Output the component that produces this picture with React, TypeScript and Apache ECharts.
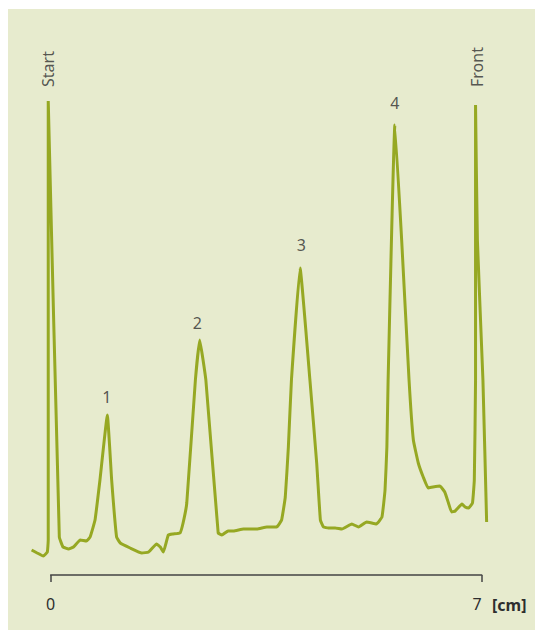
import React, { useEffect, useRef } from "react";
import * as echarts from "echarts";

// Chromatogram trace: migration distance [cm] and detector signal (arbitrary units)
const distanceCm = [
  -0.31, -0.22, -0.12, -0.055, -0.04, -0.04, 0.14, 0.2, 0.29, 0.37, 0.48, 0.58, 0.64,
  0.72, 0.8, 0.92, 0.99, 1.07, 1.13, 1.29, 1.48, 1.59, 1.72, 1.78, 1.83, 1.91, 1.99,
  2.1, 2.15, 2.21, 2.35, 2.42, 2.52, 2.72, 2.78, 2.88, 2.97, 3.13, 3.35, 3.51, 3.67,
  3.75, 3.81, 3.86, 3.91, 4.05, 4.21, 4.32, 4.38, 4.43, 4.51, 4.62, 4.73, 4.89, 5.0,
  5.13, 5.29, 5.38, 5.43, 5.46, 5.48, 5.59, 5.7, 5.82, 5.89, 5.97, 6.05, 6.13, 6.21,
  6.32, 6.4, 6.46, 6.51, 6.57, 6.68, 6.73, 6.79, 6.85, 6.88, 6.9, 6.9, 6.93, 7.02, 7.08,
];
const signal = [
  25, 22, 19, 23, 35, 474, 38, 28, 26, 28, 35, 34, 38,
  55, 95, 160, 95, 38, 32, 27, 22, 23, 31, 28, 23, 40, 41,
  42, 52, 72, 195, 235, 195, 42, 40, 44, 44, 46, 46, 48, 48,
  55, 78, 128, 195, 307, 195, 112, 55, 48, 47, 47, 46, 51, 48,
  53, 51, 58, 85, 128, 195, 450, 335, 195, 135, 112, 98, 87, 88,
  89, 83, 72, 63, 64, 71, 68, 67, 72, 95, 195, 470, 335, 195, 53,
];

// Annotations
const peakNames = ["1", "2", "3", "4"];
const peakLabelX = [0.91, 2.38, 4.07, 5.59];
const peakLabelY = [178, 252, 330, 472];
const markerNames = ["Start", "Front"];
const markerX = [-0.04, 6.92];
const markerY = [506, 508];

const axisTicks = [0, 7];
const plotRange = [-0.4, 7.2];
const unitLabel = "[cm]";

const LINE = "#96A823";
const TEXT = "#2e2e2e";
const FONT = "'Noto Sans', 'DejaVu Sans', sans-serif";

export default function App() {
  const ref = useRef<HTMLDivElement>(null);
  useEffect(() => {
    if (!ref.current) return;
    const chart = echarts.init(ref.current, undefined, { renderer: "svg" });
    const trace = distanceCm.map((x, i) => [x, signal[i]]);
    const pxPerCm = (473.7 - 42.7) / (axisTicks[1] - axisTicks[0]);
    const dataLeft = 42.7 + (plotRange[0] - axisTicks[0]) * pxPerCm;
    const dataRight = 53.3 - (plotRange[1] - axisTicks[1]) * pxPerCm;
    chart.setOption({
      animation: false,
      backgroundColor: "transparent",
      grid: [
        { left: dataLeft, right: dataRight, top: 66, bottom: 55 },
        { left: 42.7, right: 53.3, top: 66, bottom: 55 },
      ],
      xAxis: [
        {
          gridIndex: 0,
          type: "value",
          min: plotRange[0],
          max: plotRange[1],
          show: false,
        },
        {
          gridIndex: 1,
          type: "value",
          min: axisTicks[0],
          max: axisTicks[1],
          interval: axisTicks[1] - axisTicks[0],
          axisLine: { show: true, lineStyle: { color: "#444", width: 1.5 } },
          axisTick: { show: true, inside: false, length: 7, lineStyle: { color: "#444", width: 1.5 } },
          axisLabel: {
            color: TEXT,
            fontSize: 16,
            fontFamily: FONT,
            margin: 21,
            alignMaxLabel: "right",
          },
          splitLine: { show: false },
        },
      ],
      yAxis: [
        { gridIndex: 0, type: "value", min: 0, max: 500, show: false },
        { gridIndex: 1, type: "value", min: 0, max: 500, show: false },
      ],
      graphic: [
        {
          type: "text",
          left: 484,
          top: 588,
          style: { text: unitLabel, fill: TEXT, font: `bold 16px ${FONT}` },
        },
      ],
      series: [
        {
          type: "line",
          xAxisIndex: 0,
          yAxisIndex: 0,
          data: trace,
          showSymbol: false,
          clip: false,
          smooth: 0.1,
          lineStyle: { color: LINE, width: 3 },
          z: 2,
        },
        {
          type: "scatter",
          xAxisIndex: 0,
          yAxisIndex: 0,
          clip: false,
          symbolSize: 0,
          data: peakNames.map((n, i) => ({ name: n, value: [peakLabelX[i], peakLabelY[i]] })),
          label: {
            show: true,
            position: "inside",
            formatter: "{b}",
            color: TEXT,
            fontSize: 16,
            fontFamily: FONT,
          },
        },
        {
          type: "scatter",
          xAxisIndex: 0,
          yAxisIndex: 0,
          clip: false,
          symbolSize: 0,
          data: markerNames.map((n, i) => ({ name: n, value: [markerX[i], markerY[i]] })),
          label: {
            show: true,
            position: "inside",
            rotate: 90,
            formatter: "{b}",
            color: TEXT,
            fontSize: 16,
            fontFamily: FONT,
          },
        },
        {
          type: "scatter",
          xAxisIndex: 1,
          yAxisIndex: 1,
          symbolSize: 0,
          data: [],
        },
      ],
    });
    return () => chart.dispose();
  }, []);
  return (
    <div
      style={{
        position: "fixed",
        left: 8,
        top: 9,
        right: 0,
        bottom: 0,
        background: "#E7EBCE",
      }}
    >
      <div ref={ref} style={{ width: 527, height: 621 }} />
    </div>
  );
}
